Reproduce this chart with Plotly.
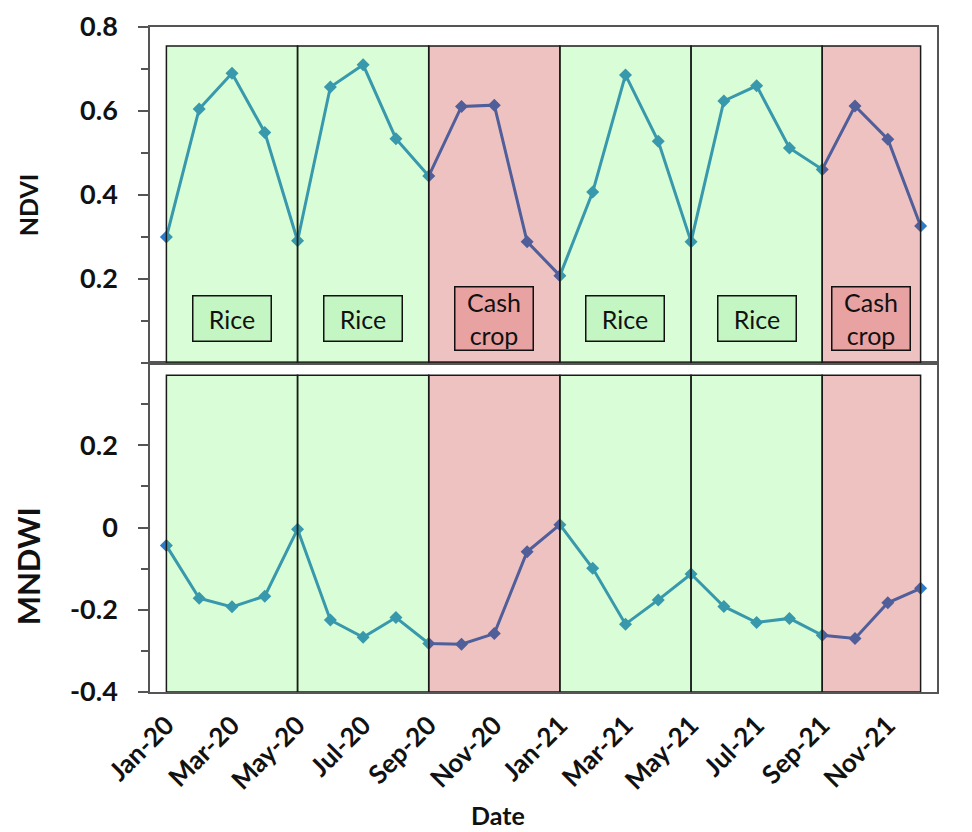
import plotly.graph_objects as go
from plotly.subplots import make_subplots

months = ["Jan-20", "Feb-20", "Mar-20", "Apr-20", "May-20", "Jun-20", "Jul-20", "Aug-20",
          "Sep-20", "Oct-20", "Nov-20", "Dec-20", "Jan-21", "Feb-21", "Mar-21", "Apr-21",
          "May-21", "Jun-21", "Jul-21", "Aug-21", "Sep-21", "Oct-21", "Nov-21", "Dec-21"]

ndvi = [0.300, 0.605, 0.690, 0.549, 0.291, 0.657, 0.710, 0.534,
        0.445, 0.611, 0.614, 0.289, 0.208, 0.407, 0.686, 0.528,
        0.289, 0.624, 0.660, 0.512, 0.461, 0.612, 0.533, 0.326]

mndwi = [-0.044, -0.172, -0.193, -0.167, -0.004, -0.225, -0.267, -0.219,
         -0.282, -0.284, -0.258, -0.059, 0.007, -0.099, -0.235, -0.176,
         -0.113, -0.192, -0.231, -0.221, -0.262, -0.270, -0.183, -0.148]

# crop seasons: (label, start month, end month)
seasons = [("Rice", "Jan-20", "May-20"), ("Rice", "May-20", "Sep-20"),
           ("Cash crop", "Sep-20", "Jan-21"), ("Rice", "Jan-21", "May-21"),
           ("Rice", "May-21", "Sep-21"), ("Cash crop", "Sep-21", "Dec-21")]

xtick_labels = months[::2]
ndvi_ticks = [0.2, 0.4, 0.6, 0.8]
ndvi_minor = [0.0, 0.1, 0.3, 0.5, 0.7]
mndwi_ticks = [-0.4, -0.2, 0.0, 0.2]
mndwi_minor = [-0.3, -0.1, 0.1, 0.3]

FONT = "Lato"
LINE_BLUE = "#2e7cc9"
AX = "#555555"
TXT = "#111111"

fig = make_subplots(rows=2, cols=1, shared_xaxes=True, vertical_spacing=0)

for row, vals in ((1, ndvi), (2, mndwi)):
    fig.add_trace(go.Scatter(
        x=months, y=vals, mode="lines+markers",
        line=dict(color=LINE_BLUE, width=3),
        marker=dict(symbol="diamond", size=10, color=LINE_BLUE),
        showlegend=False, hoverinfo="skip"), row=row, col=1)

fill = {"Rice": "rgba(90,248,78,0.23)", "Cash crop": "rgba(190,0,0,0.24)"}
box_fill = {"Rice": "#c4f6c4", "Cash crop": "#e8a2a2"}
box_text = {"Rice": "Rice", "Cash crop": "Cash<br>crop"}
box_h = {"Rice": 44, "Cash crop": 62}
panel_y = {1: (0.0, 0.755), 2: (-0.4, 0.37)}

for label, s, e in seasons:
    i0, i1 = months.index(s), months.index(e)
    for row in (1, 2):
        xr = "x" if row == 1 else "x2"
        yr = "y" if row == 1 else "y2"
        y0, y1 = panel_y[row]
        fig.add_shape(type="rect", xref=xr, yref=yr, x0=i0, x1=i1, y0=y0, y1=y1,
                      fillcolor=fill[label], line=dict(color="#1a1a1a", width=1.5),
                      layer="above")
    fig.add_annotation(x=(i0 + i1) / 2, y=0.105, xref="x", yref="y",
                       text=box_text[label], showarrow=False,
                       font=dict(family=FONT, size=25, color=TXT),
                       bgcolor=box_fill[label], bordercolor=TXT, borderwidth=1.5,
                       borderpad=0, width=77, height=box_h[label],
                       xanchor="center", yanchor="middle")

common_x = dict(range=[-0.5, 23.5], showline=True, linecolor=AX, linewidth=1.5,
                mirror=True, showgrid=False, zeroline=False, type="category",
                automargin=False)
fig.update_xaxes(**common_x, showticklabels=False, ticks="", row=1, col=1)
fig.update_xaxes(**common_x, showticklabels=True, ticks="",
                 tickmode="array", tickvals=xtick_labels, ticktext=xtick_labels,
                 tickangle=-45, ticklabelstandoff=6, row=2, col=1)

common_y = dict(showline=True, linecolor=AX, linewidth=1.5, mirror=True,
                showgrid=False, zeroline=False, ticks="outside", ticklen=10,
                tickcolor=AX, tickwidth=1.5, ticklabelstandoff=15, automargin=False)
fig.update_yaxes(**common_y, range=[0, 0.8], tickmode="array", tickvals=ndvi_ticks,
                 ticktext=[f"{v:g}" for v in ndvi_ticks],
                 minor=dict(tickmode="array", tickvals=ndvi_minor, ticks="outside",
                            ticklen=7, tickcolor=AX, tickwidth=1.5),
                 domain=[0.4947, 1.0], row=1, col=1)
fig.update_yaxes(**common_y, range=[-0.4, 0.4], tickmode="array", tickvals=mndwi_ticks,
                 ticktext=[f"{v:g}" for v in mndwi_ticks],
                 minor=dict(tickmode="array", tickvals=mndwi_minor, ticks="outside",
                            ticklen=7, tickcolor=AX, tickwidth=1.5),
                 domain=[0.0, 0.4947], row=2, col=1)

fig.add_annotation(text="<b>NDVI</b>", xref="paper", yref="paper", x=-0.155, y=0.732,
                   textangle=-90, showarrow=False,
                   font=dict(family=FONT, size=25, color=TXT),
                   xanchor="center", yanchor="middle")
fig.add_annotation(text="<b>MNDWI</b>", xref="paper", yref="paper", x=-0.155, y=0.189,
                   textangle=-90, showarrow=False,
                   font=dict(family=FONT, size=31, color=TXT),
                   xanchor="center", yanchor="middle")
fig.add_annotation(text="<b>Date</b>", xref="paper", yref="paper", x=0.442, y=-0.185,
                   showarrow=False, font=dict(family=FONT, size=25, color=TXT),
                   xanchor="center", yanchor="middle")

# the page body adds an 8px offset, so the figure is 8px smaller and margins shifted
fig.update_layout(width=964, height=824, margin=dict(l=142, r=35, t=19, b=140),
                  paper_bgcolor="white", plot_bgcolor="white",
                  font=dict(family=FONT, color=TXT))
fig.for_each_xaxis(lambda a: a.update(tickfont=dict(family=FONT, size=26, color=TXT, weight="bold")))
fig.for_each_yaxis(lambda a: a.update(tickfont=dict(family=FONT, size=27, color=TXT, weight="bold")))

fig.write_html("out.html")
